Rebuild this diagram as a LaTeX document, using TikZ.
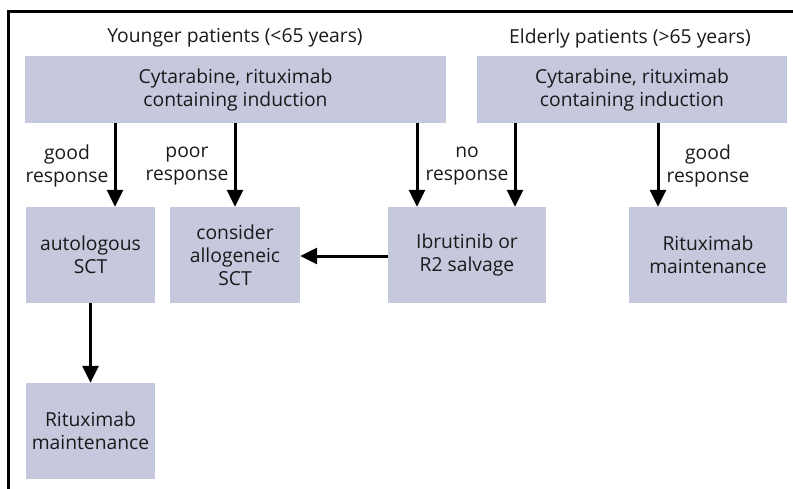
\documentclass[tikz,border=0pt]{standalone}
\usepackage{fontspec}
\setmainfont{Open Sans}
\usetikzlibrary{arrows.meta,calc}
\definecolor{boxfill}{HTML}{C6C9DE}
\definecolor{txt}{HTML}{1A1A1A}
\begin{document}
\begin{tikzpicture}[x=1pt,y=-1pt,
  font=\fontsize{19.3}{23}\selectfont,
  boxnode/.style={fill=boxfill,draw=none,inner sep=0pt,align=center,text=txt},
  lab/.style={align=center,inner sep=0pt,text=txt},
  arr/.style={line width=3pt,-{Triangle[length=17pt,width=16pt]}},
  framel/.style={line width=2.7pt,line cap=rect}]
\useasboundingbox (0,0) rectangle (793,488);
\draw[framel] (8.5,488) -- (8.5,11.5) -- (793,11.5);
\node[lab] (tY) at (235,38) {Younger patients (<65 years)};
\node[lab] (tE) at (630,38) {Elderly patients (>65 years)};
\node[boxnode,minimum width=421pt,minimum height=67pt] (topL) at (235.5,89.5) {Cytarabine, rituximab\\containing induction};
\node[boxnode,minimum width=310pt,minimum height=67pt] (topR) at (632,89.5) {Cytarabine, rituximab\\containing induction};
\node[boxnode,minimum width=129pt,minimum height=96pt] (auto) at (90.5,255) {autologous\\SCT};
\node[boxnode,minimum width=130pt,minimum height=96pt] (allo) at (235,255) {consider\\allogeneic\\SCT};
\node[boxnode,minimum width=158pt,minimum height=96pt] (ibr) at (467,255) {Ibrutinib or\\R2 salvage};
\node[boxnode,minimum width=158pt,minimum height=96pt] (ritR) at (708,255) {Rituximab\\maintenance};
\node[boxnode,minimum width=129pt,minimum height=96pt] (ritL) at (90.5,431) {Rituximab\\maintenance};
\coordinate (e1) at ($(auto.north)+(24.5,0)$);
\coordinate (e3) at ($(ibr.north)+(-50,0)$);
\coordinate (e4) at ($(ibr.north)+(48,0)$);
\coordinate (e5) at ($(ritR.north)+(-50,0)$);
\draw[arr] (topL.south -| e1) -- (e1);
\draw[arr] (topL.south -| allo.north) -- (allo.north);
\draw[arr] (topL.south -| e3) -- (e3);
\draw[arr] (topR.south -| e4) -- (e4);
\draw[arr] (topR.south -| e5) -- (e5);
\draw[arr] (ibr.west |- 0,256) -- (allo.east |- 0,256);
\draw[arr] (auto.south) -- (ritL.north);
\node[lab] (l1) at (67,166) {good\\response};
\node[lab] (l2) at (187,166) {poor\\response};
\node[lab] (l3) at (467,166) {no\\response};
\node[lab] (l4) at (708,166) {good\\response};
\end{tikzpicture}
\end{document}
